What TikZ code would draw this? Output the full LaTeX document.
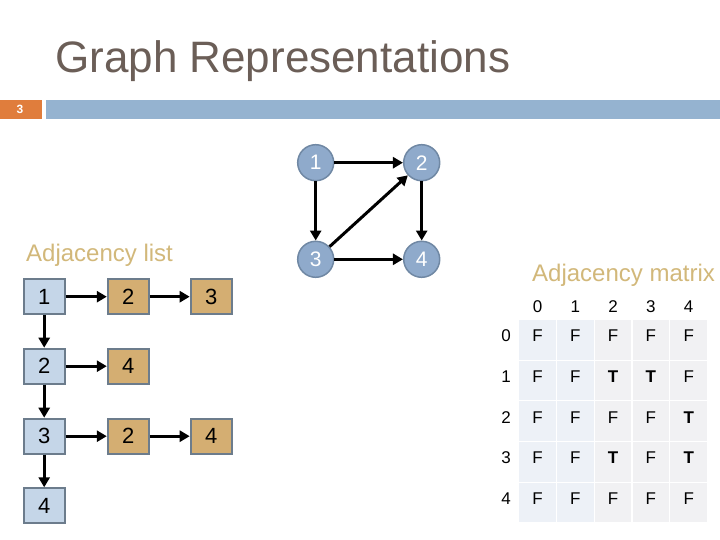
\documentclass[tikz,border=0pt]{standalone}
\usepackage{fontspec}
\setmainfont{Liberation Sans}
\usetikzlibrary{arrows.meta}
\definecolor{titlec}{RGB}{107,94,87}
\definecolor{tanc}{RGB}{210,184,122}
\definecolor{orangec}{RGB}{224,125,60}
\definecolor{barc}{RGB}{149,179,208}
\definecolor{nodefill}{RGB}{143,170,203}
\definecolor{nodeline}{RGB}{112,136,164}
\definecolor{listblue}{RGB}{197,214,232}
\definecolor{listtan}{RGB}{212,174,114}
\definecolor{listline}{RGB}{108,124,140}
\definecolor{cellblue}{RGB}{237,241,247}
\definecolor{cellgray}{RGB}{241,241,243}
\tikzset{
  gnode/.style={circle,fill=nodefill,draw=nodeline,line width=1.5pt,minimum size=36pt,inner sep=0pt,text=white,font=\fontsize{21}{24}\selectfont},
  headbox/.style={rectangle,fill=listblue,draw=listline,line width=2pt,minimum width=41pt,minimum height=35pt,inner sep=0pt,font=\fontsize{22}{26}\selectfont},
  itembox/.style={headbox,fill=listtan},
  arr/.style={line width=3pt,-{Triangle[length=10pt,width=11pt]}},
  cellb/.style={rectangle,fill=cellblue,minimum width=36.5pt,minimum height=39.5pt,inner sep=0pt},
  cellg/.style={cellb,fill=cellgray},
  mtxt/.style={font=\fontsize{17}{20}\selectfont,inner sep=0pt},
  btxt/.style={font=\fontsize{17}{20}\selectfont\bfseries,inner sep=0pt},
}
\begin{document}
\begin{tikzpicture}[x=1pt,y=-1pt]
\useasboundingbox (0,0) rectangle (720,540);
\fill[white] (0,0) rectangle (720,540);
% title and header bar
\node[anchor=base west,inner sep=0pt,text=titlec,font=\fontsize{44}{50}\selectfont] (title) at (55,72.5) {Graph Representations};
\fill[orangec] (0,100) rectangle (42,119);
\fill[barc] (46,100) rectangle (720,119);
\node[text=white,font=\fontsize{12}{14}\selectfont\bfseries,inner sep=0pt] (pnum) at (20,109.5) {3};
% graph
\node[gnode] (g1) at (315.7,162.7) {1};
\node[gnode] (g2) at (421.7,162.7) {2};
\node[gnode] (g3) at (315.7,259.3) {3};
\node[gnode] (g4) at (421.7,259.3) {4};
\draw[arr] (g1) -- (g2);
\draw[arr] (g1) -- (g3);
\draw[arr] (g3) -- (g2);
\draw[arr] (g2) -- (g4);
\draw[arr] (g3) -- (g4);
% adjacency list
\node[anchor=base west,inner sep=0pt,text=tanc,font=\fontsize{24}{28}\selectfont] (ltitle) at (26,261) {Adjacency list};
\node[headbox] (h1) at (44.2,296.7) {1};
\node[headbox] (h2) at (44.2,366.2) {2};
\node[headbox] (h3) at (44.2,436.2) {3};
\node[headbox] (h4) at (44.2,505.8) {4};
\node[itembox] (a12) at (128.3,296.7) {2};
\node[itembox] (a13) at (211.2,296.7) {3};
\node[itembox] (a24) at (128.3,366.2) {4};
\node[itembox] (a32) at (128.3,436.2) {2};
\node[itembox] (a34) at (211.2,436.2) {4};
\draw[arr] (h1) -- (h2);
\draw[arr] (h2) -- (h3);
\draw[arr] (h3) -- (h4);
\draw[arr] (h1) -- (a12);
\draw[arr] (a12) -- (a13);
\draw[arr] (h2) -- (a24);
\draw[arr] (h3) -- (a32);
\draw[arr] (a32) -- (a34);
% adjacency matrix
\node[anchor=base west,inner sep=0pt,text=tanc,font=\fontsize{24}{28}\selectfont] (mtitle) at (532,281) {Adjacency matrix};
\foreach \c [count=\i from 0] in {cellb,cellb,cellg,cellg,cellg}{
  \foreach \r in {0,...,4}{
    \node[\c] (c\r\i) at ({537.5+37.8*\i},{339.8+40.7*\r}) {};
  }
  \node[mtxt] (ch\i) at ({537.5+37.8*\i},306.5) {\i};
  \node[mtxt] (rh\i) at (506,{336+40.7*\i}) {\i};
}
\foreach \r/\vals in {0/{F,F,F,F,F},1/{F,F,T,T,F},2/{F,F,F,F,T},3/{F,F,T,F,T},4/{F,F,F,F,F}}{
  \foreach \v [count=\i from 0] in \vals{
    \if\v T
      \node[btxt] (t\r\i) at ({537.5+37.8*\i},{336+40.7*\r}) {T};
    \else
      \node[mtxt] (t\r\i) at ({537.5+37.8*\i},{336+40.7*\r}) {F};
    \fi
  }
}
\end{tikzpicture}
\end{document}
